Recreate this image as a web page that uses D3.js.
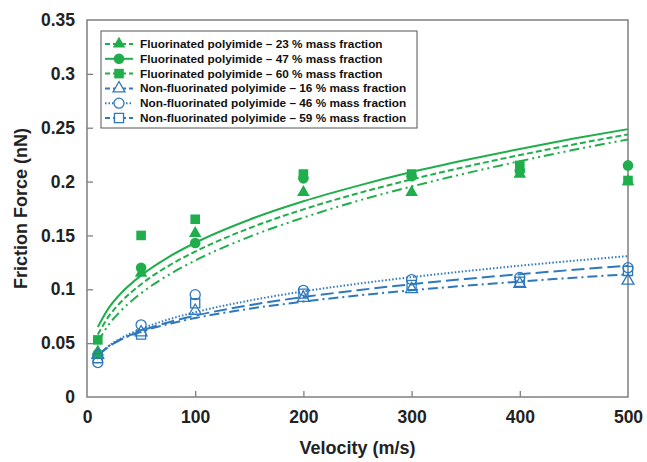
<!DOCTYPE html>
<html><head><meta charset="utf-8">
<script src="https://cdn.jsdelivr.net/npm/d3@7"></script>
<style>body{margin:0;background:#fff}svg{display:block}text{font-family:"Liberation Sans",Arial,sans-serif;font-weight:bold}</style>
</head><body>
<svg id="c" width="647" height="462"></svg>
<script>
// ---- data ----
const velocities = [10, 50, 100, 200, 300, 400, 500];
const fluor23 = [0.042, 0.115, 0.152, 0.190, 0.190, 0.207, 0.200];
const fluor47 = [0.040, 0.120, 0.143, 0.203, 0.205, 0.210, 0.215];
const fluor60 = [0.053, 0.150, 0.165, 0.207, 0.207, 0.215, 0.201];
const nonfl16 = [0.039, 0.060, 0.080, 0.092, 0.100, 0.105, 0.108];
const nonfl46 = [0.032, 0.067, 0.095, 0.099, 0.109, 0.111, 0.120];
const nonfl59 = [0.036, 0.058, 0.087, 0.096, 0.104, 0.107, 0.117];
// trend lines
const fitX = [10, 20, 30, 50, 75, 100, 150, 200, 250, 300, 350, 400, 450, 500];
const fit23 = [0.051, 0.0671, 0.0787, 0.0963, 0.1131, 0.1267, 0.1487, 0.1665, 0.1820, 0.1954, 0.2076, 0.2189, 0.2295, 0.2391];
const fit47 = [0.065, 0.0825, 0.0948, 0.1129, 0.1297, 0.1432, 0.1646, 0.1817, 0.1960, 0.2088, 0.2200, 0.2303, 0.2399, 0.2487];
const fit60 = [0.058, 0.0748, 0.0868, 0.1047, 0.1216, 0.1350, 0.1567, 0.1742, 0.1890, 0.2020, 0.2138, 0.2246, 0.2345, 0.2438];
const fit16 = [0.039, 0.0472, 0.0527, 0.0606, 0.0677, 0.0733, 0.0819, 0.0886, 0.0942, 0.0991, 0.1033, 0.1072, 0.1107, 0.1139];
const fit46 = [0.038, 0.0473, 0.0538, 0.0632, 0.0719, 0.0787, 0.0895, 0.0980, 0.1051, 0.1113, 0.1168, 0.1219, 0.1265, 0.1308];
const fit59 = [0.038, 0.0467, 0.0527, 0.0614, 0.0692, 0.0755, 0.0852, 0.0928, 0.0991, 0.1047, 0.1096, 0.1140, 0.1181, 0.1219];
const seriesNames = [
  "Fluorinated polyimide \u2013 23 % mass fraction",
  "Fluorinated polyimide \u2013 47 % mass fraction",
  "Fluorinated polyimide \u2013 60 % mass fraction",
  "Non-fluorinated polyimide \u2013 16 % mass fraction",
  "Non-fluorinated polyimide \u2013 46 % mass fraction",
  "Non-fluorinated polyimide \u2013 59 % mass fraction"
];
const xTicks = [0, 100, 200, 300, 400, 500];
const yTicks = [0, 0.05, 0.1, 0.15, 0.2, 0.25, 0.3, 0.35];

const GREEN = "#1fae4b", BLUE = "#2e78bd";
const series = [
  {name: seriesNames[0], vals: fluor23, fit: fit23, color: GREEN, sym: d3.symbolTriangle, fill: true, dash: "10,4,2,4,2,4"},
  {name: seriesNames[1], vals: fluor47, fit: fit47, color: GREEN, sym: d3.symbolCircle, fill: true, dash: null},
  {name: seriesNames[2], vals: fluor60, fit: fit60, color: GREEN, sym: d3.symbolSquare, fill: true, dash: "6,3"},
  {name: seriesNames[3], vals: nonfl16, fit: fit16, color: BLUE, sym: d3.symbolTriangle, fill: false, dash: "10,4,2,4"},
  {name: seriesNames[4], vals: nonfl46, fit: fit46, color: BLUE, sym: d3.symbolCircle, fill: false, dash: "1.5,2"},
  {name: seriesNames[5], vals: nonfl59, fit: fit59, color: BLUE, sym: d3.symbolSquare, fill: false, dash: "13,5"}
];
const symSize = {triangle: 68, circle: 88, square: 92};

const svg = d3.select("#c");
const L = 87, R = 628, T = 20, B = 397;
const x = d3.scaleLinear().domain([0, 500]).range([L, R]);
const y = d3.scaleLinear().domain([0, 0.35]).range([B, T]);

// frame
svg.append("rect").attr("x", L).attr("y", T).attr("width", R - L).attr("height", B - T)
  .attr("fill", "none").attr("stroke", "#7f7f7f").attr("stroke-width", 1.5);

// axes
const xAxis = d3.axisBottom(x).tickValues(xTicks).tickSize(-6).tickPadding(14).tickFormat(d3.format("d"));
const gx = svg.append("g").attr("transform", `translate(0,${B})`).call(xAxis);
const yAxis = d3.axisLeft(y).tickValues(yTicks).tickSize(-6).tickPadding(12).tickFormat(d => d === 0 ? "0" : String(+d.toFixed(2)));
const gy = svg.append("g").attr("transform", `translate(${L},0)`).call(yAxis);
[gx, gy].forEach(g => {
  g.select(".domain").remove();
  g.selectAll(".tick line").attr("stroke", "#7f7f7f").attr("stroke-width", 1.3);
  g.selectAll(".tick text").attr("fill", "#222").style("font-size", "17.5px").style("font-family", '"Liberation Sans",Arial,sans-serif').style("font-weight", "bold");
});
gx.selectAll(".tick").filter(d => d === 0 || d === 500).select("line").remove();
gy.selectAll(".tick").filter(d => d === 0 || d === 0.35).select("line").remove();

svg.append("text").attr("x", (L + R) / 2).attr("y", 454).attr("text-anchor", "middle")
  .attr("fill", "#222").style("font-size", "18px").text("Velocity (m/s)");
svg.append("text").attr("transform", `translate(27,${(T + B) / 2}) rotate(-90)`).attr("text-anchor", "middle")
  .attr("fill", "#222").style("font-size", "18px").text("Friction Force (nN)");

// trend lines
const line = d3.line().x((d, i) => x(fitX[i])).y(d => y(d)).curve(d3.curveMonotoneX);
series.forEach(s => {
  svg.append("path").attr("d", line(s.fit)).attr("fill", "none").attr("stroke", s.color)
    .attr("stroke-width", 2).attr("stroke-dasharray", s.dash);
});

function symOf(s) {
  const sz = s.sym === d3.symbolTriangle ? symSize.triangle : s.sym === d3.symbolCircle ? symSize.circle : symSize.square;
  return d3.symbol().type(s.sym).size(s.fill ? sz : sz * 0.9)();
}
// markers
series.forEach(s => {
  svg.append("g").selectAll("path").data(s.vals).join("path")
    .attr("transform", (d, i) => `translate(${x(velocities[i])},${y(d)})`)
    .attr("d", symOf(s))
    .attr("fill", s.fill ? s.color : "#fff")
    .attr("fill-opacity", s.fill ? 1 : 0)
    .attr("stroke", s.color).attr("stroke-width", s.fill ? 0 : 1.3);
});

// legend
const lg = svg.append("g");
lg.append("rect").attr("x", 101).attr("y", 31).attr("width", 316).attr("height", 97)
  .attr("fill", "#fff").attr("stroke", "#555").attr("stroke-width", 1);
series.forEach((s, i) => {
  const yy = 44 + i * 14.8;
  lg.append("line").attr("x1", 105).attr("x2", 133).attr("y1", yy).attr("y2", yy)
    .attr("stroke", s.color).attr("stroke-width", 2).attr("stroke-dasharray", s.dash ? (s.dash === "1.5,2" ? "1.5,2" : "5,3") : null);
  lg.append("path").attr("transform", `translate(119,${yy})`).attr("d", symOf(s))
    .attr("fill", s.fill ? s.color : "#fff").attr("stroke", s.color).attr("stroke-width", s.fill ? 0 : 1.3);
  lg.append("text").attr("x", 140).attr("y", yy + 4).attr("fill", "#111").style("font-size", "11.8px").text(s.name);
});
</script>
</body></html>
